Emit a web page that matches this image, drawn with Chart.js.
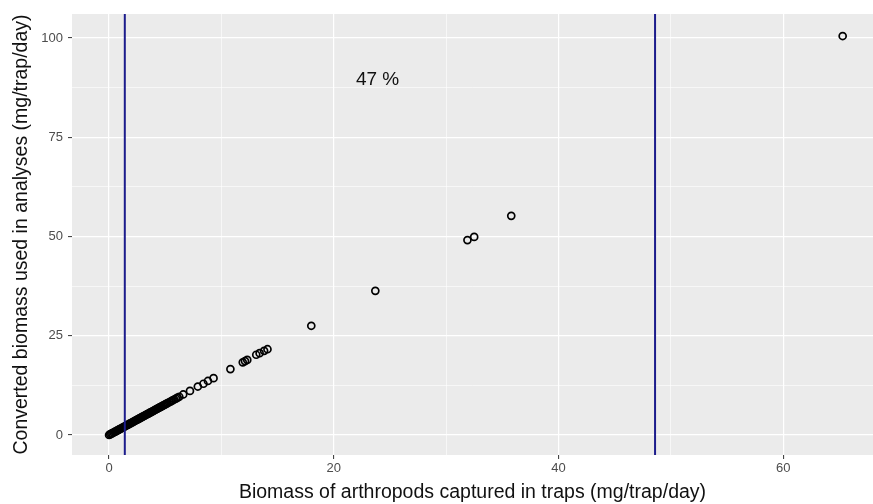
<!DOCTYPE html>
<html>
<head>
<meta charset="utf-8">
<script src="https://cdn.jsdelivr.net/npm/chart.js@4/dist/chart.umd.min.js"></script>
<style>
  html, body { margin: 0; padding: 0; background: #fff; }
  #wrap { width: 873px; height: 504px; }
</style>
</head>
<body>
<div id="wrap"><canvas id="chart" width="873" height="504"></canvas></div>
<script>
// biomass per trap (x) vs converted biomass (y)
const biomassTrap = [
  65.3, 35.8, 32.5, 31.9, 23.7, 18.0, 14.1, 13.8, 13.4, 13.1, 12.3, 12.1, 11.9, 10.8, 9.3, 8.8, 8.4, 7.9, 7.2, 6.6,
  6.25, 6.1, 5.95, 5.8, 5.65, 5.5, 5.35, 5.2, 5.1, 5.0, 4.9, 4.8, 4.7, 4.6, 4.5, 4.4, 4.3, 4.2, 4.1, 4.0,
  3.9, 3.8, 3.7, 3.6, 3.5, 3.4, 3.3, 3.2, 3.1, 3.0, 2.9, 2.8, 2.7, 2.6, 2.5, 2.4, 2.3, 2.2, 2.1, 2.0,
  1.9, 1.8, 1.7, 1.6, 1.5, 1.4, 1.3, 1.2, 1.1, 1.0, 0.9, 0.8, 0.7, 0.6, 0.5, 0.4, 0.3, 0.2, 0.1, 0
];
const biomassConverted = [
  100.5, 55.2, 49.9, 49.1, 36.3, 27.5, 21.6, 21.2, 20.6, 20.2, 18.9, 18.6, 18.3, 16.6, 14.3, 13.6, 12.9, 12.2, 11.1, 10.2,
  9.63, 9.39, 9.16, 8.93, 8.7, 8.47, 8.24, 8.01, 7.85, 7.7, 7.55, 7.39, 7.24, 7.08, 6.93, 6.78, 6.62, 6.47, 6.31, 6.16,
  6.01, 5.85, 5.7, 5.54, 5.39, 5.24, 5.08, 4.93, 4.77, 4.62, 4.47, 4.31, 4.16, 4.0, 3.85, 3.7, 3.54, 3.39, 3.23, 3.08,
  2.93, 2.77, 2.62, 2.46, 2.31, 2.16, 2.0, 1.85, 1.69, 1.54, 1.39, 1.23, 1.08, 0.92, 0.77, 0.62, 0.46, 0.31, 0.15, 0
];
const cutoffs = [1.4, 48.6];
const xTicks = [0, 10, 20, 30, 40, 50, 60];
const yTicks = [0, 12.5, 25, 37.5, 50, 62.5, 75, 87.5, 100];
const xLabelTicks = [0, 20, 40, 60];
const yLabelTicks = [0, 25, 50, 75, 100];
const shareLabel = '47 %';
const shareAt = { x: 23.9, y: 89.4 };

const points = biomassTrap.map((v, i) => ({ x: v, y: biomassConverted[i] }));
const FONT = '"Liberation Sans", Arial, Helvetica, sans-serif';

const panelBg = {
  id: 'panelBg',
  beforeDraw(chart) {
    const { ctx, chartArea: a } = chart;
    ctx.save();
    ctx.fillStyle = '#EBEBEB';
    ctx.fillRect(a.left, a.top, a.right - a.left, a.bottom - a.top);
    ctx.restore();
  }
};

const shareText = {
  id: 'shareText',
  afterDatasetsDraw(chart) {
    const { ctx, scales } = chart;
    ctx.save();
    ctx.fillStyle = '#111';
    ctx.font = '19px ' + FONT;
    ctx.textAlign = 'center';
    ctx.textBaseline = 'middle';
    ctx.fillText(shareLabel, scales.x.getPixelForValue(shareAt.x), scales.y.getPixelForValue(shareAt.y));
    ctx.restore();
  }
};

const cutoffSets = cutoffs.map(c => ({
  type: 'line',
  data: [{ x: c, y: -20 }, { x: c, y: 130 }],
  borderColor: '#1c1c8c',
  borderWidth: 2,
  pointRadius: 0,
  fill: false
}));

new Chart(document.getElementById('chart'), {
  type: 'scatter',
  data: {
    datasets: [
      ...cutoffSets,
      {
        data: points,
        pointStyle: 'circle',
        pointRadius: 3.5,
        borderWidth: 1.7,
        borderColor: '#000',
        backgroundColor: 'rgba(0,0,0,0)'
      }
    ]
  },
  options: {
    responsive: false,
    animation: false,
    layout: { autoPadding: false, padding: { left: 0, right: 0, top: 14, bottom: 0 } },
    plugins: { legend: { display: false }, tooltip: { enabled: false } },
    scales: {
      x: {
        type: 'linear',
        min: -3.3,
        max: 68,
        afterBuildTicks: s => { s.ticks = xTicks.map(v => ({ value: v })); },
        afterFit: s => { s.height = 49; },
        border: { display: false },
        grid: {
          color: '#fff',
          lineWidth: c => xLabelTicks.includes(c.tick && c.tick.value) ? 1.2 : 0.6,
          tickColor: c => xLabelTicks.includes(c.tick && c.tick.value) ? '#333' : 'rgba(0,0,0,0)',
          tickLength: 4,
          tickWidth: 1
        },
        ticks: {
          autoSkip: false,
          maxRotation: 0,
          padding: 2,
          color: '#4D4D4D',
          font: { family: FONT, size: 13 },
          callback: v => xLabelTicks.includes(v) ? String(v) : ''
        },
        title: {
          display: true,
          text: 'Biomass of arthropods captured in traps (mg/trap/day)',
          color: '#111',
          font: { family: FONT, size: 19.5 },
          padding: { top: 0, bottom: 0 }
        }
      },
      y: {
        type: 'linear',
        min: -5.05,
        max: 106.05,
        afterBuildTicks: s => { s.ticks = yTicks.map(v => ({ value: v })); },
        afterFit: s => { s.width = 72; },
        border: { display: false },
        grid: {
          color: '#fff',
          lineWidth: c => yLabelTicks.includes(c.tick && c.tick.value) ? 1.2 : 0.6,
          tickColor: c => yLabelTicks.includes(c.tick && c.tick.value) ? '#333' : 'rgba(0,0,0,0)',
          tickLength: 4,
          tickWidth: 1
        },
        ticks: {
          autoSkip: false,
          padding: 5,
          color: '#4D4D4D',
          font: { family: FONT, size: 13 },
          callback: v => yLabelTicks.includes(v) ? String(v) : ''
        },
        title: {
          display: true,
          text: 'Converted biomass used in analyses (mg/trap/day)',
          color: '#111',
          font: { family: FONT, size: 19.5 },
          padding: { top: 10, bottom: 0 }
        }
      }
    }
  },
  plugins: [panelBg, shareText]
});
</script>
</body>
</html>
